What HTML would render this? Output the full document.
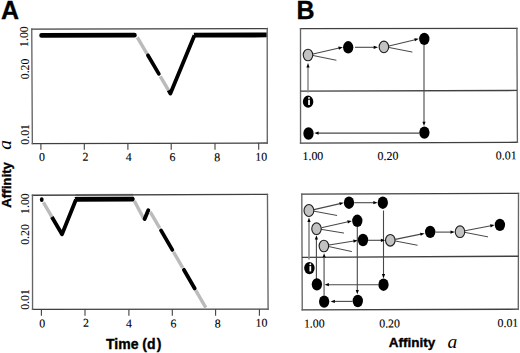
<!DOCTYPE html>
<html><head><meta charset="utf-8"><title>Figure</title>
<style>
html,body{margin:0;padding:0;background:#fff;}
body{width:520px;height:353px;overflow:hidden;font-family:"Liberation Sans", sans-serif;}
svg{display:block;}
</style></head>
<body>
<svg width="520" height="353" viewBox="0 0 520 353">
<rect width="520" height="353" fill="#fff"/>
<text x="0" y="0" font-family='"Liberation Sans", sans-serif' font-size="25" text-anchor="start" font-weight="bold" font-style="normal" fill="#000" stroke="#000" stroke-width="0.3" transform="translate(1.00 19.20)">A</text>
<text x="0" y="0" font-family='"Liberation Sans", sans-serif' font-size="25" text-anchor="start" font-weight="bold" font-style="normal" fill="#000" stroke="#000" stroke-width="0.3" transform="translate(296.50 19.00)">B</text>
<line x1="75.50" y1="195.20" x2="133.20" y2="195.00" stroke="#b0b0b0" stroke-width="2.4" stroke-linecap="butt"/>
<path d="M31.75,29.15L267.20,28.55M32.35,143.55L267.30,143.05" stroke="#404040" stroke-width="1.35" fill="none" stroke-linecap="square"/>
<path d="M31.75,29.15L32.35,143.55M267.20,28.55L267.30,143.05" stroke="#646464" stroke-width="1.35" fill="none" stroke-linecap="square"/>
<line x1="40.90" y1="143.53" x2="40.90" y2="149.80" stroke="#404040" stroke-width="1.1" stroke-linecap="butt"/>
<line x1="84.30" y1="143.44" x2="84.30" y2="149.80" stroke="#404040" stroke-width="1.1" stroke-linecap="butt"/>
<line x1="127.90" y1="143.35" x2="127.90" y2="149.80" stroke="#404040" stroke-width="1.1" stroke-linecap="butt"/>
<line x1="171.20" y1="143.25" x2="171.20" y2="149.80" stroke="#404040" stroke-width="1.1" stroke-linecap="butt"/>
<line x1="215.00" y1="143.16" x2="215.00" y2="149.80" stroke="#404040" stroke-width="1.1" stroke-linecap="butt"/>
<line x1="258.70" y1="143.07" x2="258.70" y2="149.80" stroke="#404040" stroke-width="1.1" stroke-linecap="butt"/>
<text x="0" y="0" font-family='"Liberation Serif", serif' font-size="11.9" text-anchor="middle" font-weight="normal" font-style="normal" fill="#000" stroke="#000" stroke-width="0.1" transform="translate(42.05 161.10) rotate(-0.12)">0</text>
<text x="0" y="0" font-family='"Liberation Serif", serif' font-size="11.9" text-anchor="middle" font-weight="normal" font-style="normal" fill="#000" stroke="#000" stroke-width="0.1" transform="translate(85.35 160.80) rotate(-0.12)">2</text>
<text x="0" y="0" font-family='"Liberation Serif", serif' font-size="11.9" text-anchor="middle" font-weight="normal" font-style="normal" fill="#000" stroke="#000" stroke-width="0.1" transform="translate(128.65 161.00) rotate(-0.12)">4</text>
<text x="0" y="0" font-family='"Liberation Serif", serif' font-size="11.9" text-anchor="middle" font-weight="normal" font-style="normal" fill="#000" stroke="#000" stroke-width="0.1" transform="translate(172.50 161.10) rotate(-0.12)">6</text>
<text x="0" y="0" font-family='"Liberation Serif", serif' font-size="11.9" text-anchor="middle" font-weight="normal" font-style="normal" fill="#000" stroke="#000" stroke-width="0.1" transform="translate(217.25 161.30) rotate(-0.12)">8</text>
<text x="0" y="0" font-family='"Liberation Serif", serif' font-size="11.9" text-anchor="middle" font-weight="normal" font-style="normal" fill="#000" stroke="#000" stroke-width="0.1" transform="translate(261.30 160.70) rotate(-0.12)">10</text>
<text x="0" y="0" font-family='"Liberation Serif", serif' font-size="12.1" text-anchor="middle" font-weight="normal" font-style="normal" fill="#000" stroke="#000" stroke-width="0.08" transform="translate(28.00 36.65) rotate(-90) scale(0.975 1.0)">1.00</text>
<text x="0" y="0" font-family='"Liberation Serif", serif' font-size="12.1" text-anchor="middle" font-weight="normal" font-style="normal" fill="#000" stroke="#000" stroke-width="0.08" transform="translate(28.70 68.95) rotate(-90) scale(0.975 1.0)">0.20</text>
<text x="0" y="0" font-family='"Liberation Serif", serif' font-size="12.1" text-anchor="middle" font-weight="normal" font-style="normal" fill="#000" stroke="#000" stroke-width="0.08" transform="translate(29.30 134.40) rotate(-90) scale(0.975 1.0)">0.01</text>
<path d="M32.45,195.25L267.45,194.35M32.55,309.35L268.10,309.15" stroke="#404040" stroke-width="1.35" fill="none" stroke-linecap="square"/>
<path d="M32.45,195.25L32.55,309.35M267.45,194.35L268.10,309.15" stroke="#646464" stroke-width="1.35" fill="none" stroke-linecap="square"/>
<line x1="41.40" y1="309.34" x2="41.40" y2="315.80" stroke="#404040" stroke-width="1.1" stroke-linecap="butt"/>
<line x1="85.00" y1="309.31" x2="85.00" y2="315.80" stroke="#404040" stroke-width="1.1" stroke-linecap="butt"/>
<line x1="128.90" y1="309.27" x2="128.90" y2="315.80" stroke="#404040" stroke-width="1.1" stroke-linecap="butt"/>
<line x1="172.30" y1="309.23" x2="172.30" y2="315.80" stroke="#404040" stroke-width="1.1" stroke-linecap="butt"/>
<line x1="215.60" y1="309.19" x2="215.60" y2="315.80" stroke="#404040" stroke-width="1.1" stroke-linecap="butt"/>
<line x1="259.40" y1="309.16" x2="259.40" y2="315.80" stroke="#404040" stroke-width="1.1" stroke-linecap="butt"/>
<text x="0" y="0" font-family='"Liberation Serif", serif' font-size="11.9" text-anchor="middle" font-weight="normal" font-style="normal" fill="#000" stroke="#000" stroke-width="0.1" transform="translate(42.30 327.60) rotate(-0.12)">0</text>
<text x="0" y="0" font-family='"Liberation Serif", serif' font-size="11.9" text-anchor="middle" font-weight="normal" font-style="normal" fill="#000" stroke="#000" stroke-width="0.1" transform="translate(86.00 326.70) rotate(-0.12)">2</text>
<text x="0" y="0" font-family='"Liberation Serif", serif' font-size="11.9" text-anchor="middle" font-weight="normal" font-style="normal" fill="#000" stroke="#000" stroke-width="0.1" transform="translate(129.00 327.40) rotate(-0.12)">4</text>
<text x="0" y="0" font-family='"Liberation Serif", serif' font-size="11.9" text-anchor="middle" font-weight="normal" font-style="normal" fill="#000" stroke="#000" stroke-width="0.1" transform="translate(173.40 327.60) rotate(-0.12)">6</text>
<text x="0" y="0" font-family='"Liberation Serif", serif' font-size="11.9" text-anchor="middle" font-weight="normal" font-style="normal" fill="#000" stroke="#000" stroke-width="0.1" transform="translate(217.70 327.60) rotate(-0.12)">8</text>
<text x="0" y="0" font-family='"Liberation Serif", serif' font-size="11.9" text-anchor="middle" font-weight="normal" font-style="normal" fill="#000" stroke="#000" stroke-width="0.1" transform="translate(261.45 326.80) rotate(-0.12)">10</text>
<text x="0" y="0" font-family='"Liberation Serif", serif' font-size="12.1" text-anchor="middle" font-weight="normal" font-style="normal" fill="#000" stroke="#000" stroke-width="0.08" transform="translate(28.70 203.65) rotate(-90) scale(0.975 1.0)">1.00</text>
<text x="0" y="0" font-family='"Liberation Serif", serif' font-size="12.1" text-anchor="middle" font-weight="normal" font-style="normal" fill="#000" stroke="#000" stroke-width="0.08" transform="translate(29.10 234.50) rotate(-90) scale(0.975 1.0)">0.20</text>
<text x="0" y="0" font-family='"Liberation Serif", serif' font-size="12.1" text-anchor="middle" font-weight="normal" font-style="normal" fill="#000" stroke="#000" stroke-width="0.08" transform="translate(29.10 299.50) rotate(-90) scale(0.975 1.0)">0.01</text>
<polyline points="41.60,35.40 134.40,35.20" fill="none" stroke="#000" stroke-width="4.8" stroke-linecap="round" stroke-linejoin="round"/>
<line x1="137.33" y1="37.40" x2="146.88" y2="53.60" stroke="#bbbbbb" stroke-width="3.4" stroke-linecap="butt"/>
<line x1="147.88" y1="55.30" x2="158.85" y2="73.90" stroke="#000" stroke-width="3.7" stroke-linecap="round"/>
<line x1="160.27" y1="76.30" x2="168.70" y2="90.60" stroke="#bbbbbb" stroke-width="3.4" stroke-linecap="butt"/>
<polyline points="168.58,90.40 170.40,93.50 194.50,35.20" fill="none" stroke="#000" stroke-width="3.8" stroke-linecap="butt" stroke-linejoin="round"/>
<path d="M193.7,32.75 L266.6,32.55 L266.6,37.35 L194.5,37.55 Z" fill="#000"/>
<ellipse cx="41.75" cy="199.65" rx="1.9" ry="2.45" fill="#000"/>
<line x1="43.41" y1="202.30" x2="52.01" y2="217.20" stroke="#bbbbbb" stroke-width="3.4" stroke-linecap="butt"/>
<polyline points="51.89,217.00 62.00,234.30 76.00,199.50" fill="none" stroke="#000" stroke-width="3.8" stroke-linecap="butt" stroke-linejoin="round"/>
<path d="M74.6,196.95 L133.6,196.85 Q135.9,199.15 133.6,201.45 L76.0,201.75 Z" fill="#000"/>
<line x1="134.40" y1="201.00" x2="143.50" y2="218.20" stroke="#bbbbbb" stroke-width="3.4" stroke-linecap="butt"/>
<line x1="144.60" y1="218.90" x2="148.30" y2="210.30" stroke="#000" stroke-width="3.9" stroke-linecap="round"/>
<line x1="150.22" y1="211.80" x2="159.74" y2="228.20" stroke="#bbbbbb" stroke-width="3.4" stroke-linecap="butt"/>
<line x1="161.01" y1="230.40" x2="172.32" y2="249.90" stroke="#000" stroke-width="3.8" stroke-linecap="round"/>
<line x1="173.54" y1="252.00" x2="182.76" y2="267.90" stroke="#bbbbbb" stroke-width="3.4" stroke-linecap="butt"/>
<line x1="183.87" y1="269.80" x2="194.71" y2="288.50" stroke="#000" stroke-width="3.8" stroke-linecap="round"/>
<line x1="195.76" y1="290.30" x2="205.79" y2="307.60" stroke="#bbbbbb" stroke-width="3.4" stroke-linecap="butt"/>
<text x="0" y="0" font-family='"Liberation Sans", sans-serif' font-size="14" text-anchor="start" font-weight="bold" font-style="normal" fill="#000" stroke="#000" stroke-width="0.35" transform="translate(106.00 348.60)">Time (d<tspan dx="1.3">)</tspan></text>
<text x="0" y="0" font-family='"Liberation Sans", sans-serif' font-size="13.3" text-anchor="middle" font-weight="bold" font-style="normal" fill="#000" stroke="#000" stroke-width="0.35" transform="translate(11.00 184.90) rotate(-90)">Affinity</text>
<text x="0" y="0" font-family='"Liberation Serif", serif' font-size="19.5" text-anchor="middle" font-weight="normal" font-style="italic" fill="#000" transform="translate(11.00 144.90) rotate(-90)">a</text>
<text x="0" y="0" font-family='"Liberation Sans", sans-serif' font-size="13.5" text-anchor="middle" font-weight="bold" font-style="normal" fill="#000" stroke="#000" stroke-width="0.35" transform="translate(411.90 347.00)">Affinity</text>
<text x="0" y="0" font-family='"Liberation Serif", serif' font-size="19.5" text-anchor="middle" font-weight="normal" font-style="italic" fill="#000" transform="translate(452.30 347.60)">a</text>
<path d="M300.50,28.66L516.90,28.35M300.55,143.15L517.40,142.30" stroke="#404040" stroke-width="1.35" fill="none" stroke-linecap="square"/>
<path d="M300.50,28.66L300.55,143.15M516.90,28.35L517.40,142.30" stroke="#646464" stroke-width="1.35" fill="none" stroke-linecap="square"/>
<line x1="300.50" y1="91.05" x2="517.10" y2="90.45" stroke="#404040" stroke-width="1.35" stroke-linecap="butt"/>
<text x="0" y="0" font-family='"Liberation Serif", serif' font-size="11.9" text-anchor="start" font-weight="normal" font-style="normal" fill="#000" stroke="#000" stroke-width="0.1" transform="translate(302.50 160.10) rotate(-0.12)">1.00</text>
<text x="0" y="0" font-family='"Liberation Serif", serif' font-size="11.9" text-anchor="start" font-weight="normal" font-style="normal" fill="#000" stroke="#000" stroke-width="0.1" transform="translate(377.60 159.90) rotate(-0.12)">0.20</text>
<text x="0" y="0" font-family='"Liberation Serif", serif' font-size="11.9" text-anchor="start" font-weight="normal" font-style="normal" fill="#000" stroke="#000" stroke-width="0.1" transform="translate(495.80 159.40) rotate(-0.12)">0.01</text>
<path d="M301.80,194.10L518.50,193.40M302.25,309.90L518.30,309.20" stroke="#404040" stroke-width="1.35" fill="none" stroke-linecap="square"/>
<path d="M301.80,194.10L302.25,309.90M518.50,193.40L518.30,309.20" stroke="#646464" stroke-width="1.35" fill="none" stroke-linecap="square"/>
<line x1="301.90" y1="257.30" x2="518.40" y2="256.20" stroke="#404040" stroke-width="1.35" stroke-linecap="butt"/>
<text x="0" y="0" font-family='"Liberation Serif", serif' font-size="11.9" text-anchor="start" font-weight="normal" font-style="normal" fill="#000" stroke="#000" stroke-width="0.1" transform="translate(303.90 327.50) rotate(-0.12)">1.00</text>
<text x="0" y="0" font-family='"Liberation Serif", serif' font-size="11.9" text-anchor="start" font-weight="normal" font-style="normal" fill="#000" stroke="#000" stroke-width="0.1" transform="translate(379.20 327.50) rotate(-0.12)">0.20</text>
<text x="0" y="0" font-family='"Liberation Serif", serif' font-size="11.9" text-anchor="start" font-weight="normal" font-style="normal" fill="#000" stroke="#000" stroke-width="0.1" transform="translate(497.50 326.90) rotate(-0.12)">0.01</text>
<line x1="308.00" y1="92.60" x2="308.00" y2="66.90" stroke="#8a8a8a" stroke-width="1.5" stroke-linecap="butt"/>
<polygon points="308.00,63.10 309.60,67.40 306.40,67.40" fill="#000"/>
<line x1="313.00" y1="54.00" x2="339.10" y2="48.05" stroke="#484848" stroke-width="1.1" stroke-linecap="butt"/>
<polygon points="342.80,47.20 338.96,49.72 338.25,46.60" fill="#000"/>
<line x1="313.00" y1="55.50" x2="336.00" y2="60.20" stroke="#484848" stroke-width="1.0" stroke-linecap="round"/>
<line x1="355.00" y1="47.30" x2="374.20" y2="47.30" stroke="#484848" stroke-width="1.1" stroke-linecap="butt"/>
<polygon points="378.00,47.30 373.70,48.90 373.70,45.70" fill="#000"/>
<line x1="389.00" y1="46.00" x2="415.11" y2="39.69" stroke="#484848" stroke-width="1.1" stroke-linecap="butt"/>
<polygon points="418.80,38.80 415.00,41.37 414.24,38.25" fill="#000"/>
<line x1="389.00" y1="47.50" x2="412.00" y2="52.00" stroke="#484848" stroke-width="1.0" stroke-linecap="round"/>
<line x1="424.00" y1="45.00" x2="424.00" y2="122.20" stroke="#484848" stroke-width="1.1" stroke-linecap="butt"/>
<polygon points="424.00,126.00 422.40,121.70 425.60,121.70" fill="#000"/>
<line x1="419.00" y1="133.10" x2="318.10" y2="133.10" stroke="#484848" stroke-width="1.1" stroke-linecap="butt"/>
<polygon points="314.30,133.10 318.60,131.50 318.60,134.70" fill="#000"/>
<ellipse cx="308.00" cy="55.00" rx="4.75" ry="5.80" fill="#c2c2c2" stroke="#1e1e1e" stroke-width="1.1"/>
<ellipse cx="348.20" cy="47.30" rx="5.15" ry="6.20" fill="#000"/>
<ellipse cx="383.90" cy="46.90" rx="4.75" ry="5.80" fill="#c2c2c2" stroke="#1e1e1e" stroke-width="1.1"/>
<ellipse cx="424.30" cy="38.90" rx="5.15" ry="6.20" fill="#000"/>
<ellipse cx="308.10" cy="101.70" rx="5.25" ry="6.10" fill="#000"/>
<rect x="308.15" y="99.70" width="1.75" height="5.3" fill="#fff"/>
<circle cx="309.00" cy="97.90" r="0.95" fill="#fff"/>
<ellipse cx="308.50" cy="133.50" rx="5.15" ry="6.20" fill="#000"/>
<ellipse cx="424.40" cy="132.60" rx="5.15" ry="6.20" fill="#000"/>
<line x1="309.00" y1="259.50" x2="309.00" y2="221.40" stroke="#8a8a8a" stroke-width="1.6" stroke-linecap="butt"/>
<polygon points="309.00,217.60 310.60,221.90 307.40,221.90" fill="#000"/>
<line x1="316.40" y1="279.00" x2="316.40" y2="239.00" stroke="#484848" stroke-width="1.1" stroke-linecap="butt"/>
<polygon points="316.40,235.20 318.00,239.50 314.80,239.50" fill="#000"/>
<line x1="324.10" y1="295.50" x2="324.10" y2="257.10" stroke="#8a8a8a" stroke-width="1.7" stroke-linecap="butt"/>
<polygon points="324.10,253.30 325.70,257.60 322.50,257.60" fill="#000"/>
<line x1="357.30" y1="227.00" x2="357.30" y2="290.50" stroke="#484848" stroke-width="1.1" stroke-linecap="butt"/>
<polygon points="357.30,294.30 355.70,290.00 358.90,290.00" fill="#000"/>
<line x1="383.50" y1="210.50" x2="383.50" y2="274.60" stroke="#484848" stroke-width="1.1" stroke-linecap="butt"/>
<polygon points="383.50,278.40 381.90,274.10 385.10,274.10" fill="#000"/>
<line x1="378.50" y1="284.70" x2="328.40" y2="284.70" stroke="#484848" stroke-width="1.1" stroke-linecap="butt"/>
<polygon points="324.60,284.70 328.90,283.10 328.90,286.30" fill="#000"/>
<line x1="352.50" y1="301.40" x2="334.40" y2="301.40" stroke="#484848" stroke-width="1.1" stroke-linecap="butt"/>
<polygon points="330.60,301.40 334.90,299.80 334.90,303.00" fill="#000"/>
<line x1="314.00" y1="209.60" x2="340.10" y2="203.65" stroke="#484848" stroke-width="1.1" stroke-linecap="butt"/>
<polygon points="343.80,202.80 339.96,205.32 339.25,202.20" fill="#000"/>
<line x1="314.00" y1="211.20" x2="336.70" y2="215.40" stroke="#484848" stroke-width="1.0" stroke-linecap="round"/>
<line x1="354.20" y1="202.70" x2="373.80" y2="202.70" stroke="#484848" stroke-width="1.1" stroke-linecap="butt"/>
<polygon points="377.60,202.70 373.30,204.30 373.30,201.10" fill="#000"/>
<line x1="321.40" y1="227.80" x2="348.09" y2="221.74" stroke="#484848" stroke-width="1.1" stroke-linecap="butt"/>
<polygon points="351.80,220.90 347.96,223.41 347.25,220.29" fill="#000"/>
<line x1="321.40" y1="229.40" x2="343.60" y2="233.00" stroke="#484848" stroke-width="1.0" stroke-linecap="round"/>
<line x1="329.00" y1="245.00" x2="353.95" y2="241.00" stroke="#484848" stroke-width="1.1" stroke-linecap="butt"/>
<polygon points="357.70,240.40 353.71,242.66 353.20,239.50" fill="#000"/>
<line x1="329.00" y1="246.60" x2="351.50" y2="251.50" stroke="#484848" stroke-width="1.0" stroke-linecap="round"/>
<line x1="368.00" y1="240.30" x2="381.40" y2="240.30" stroke="#484848" stroke-width="1.1" stroke-linecap="butt"/>
<polygon points="385.20,240.30 380.90,241.90 380.90,238.70" fill="#000"/>
<line x1="395.30" y1="239.40" x2="420.88" y2="234.16" stroke="#484848" stroke-width="1.1" stroke-linecap="butt"/>
<polygon points="424.60,233.40 420.71,235.83 420.07,232.70" fill="#000"/>
<line x1="395.30" y1="241.00" x2="417.20" y2="245.20" stroke="#484848" stroke-width="1.0" stroke-linecap="round"/>
<line x1="435.40" y1="232.10" x2="451.00" y2="232.10" stroke="#484848" stroke-width="1.1" stroke-linecap="butt"/>
<polygon points="454.80,232.10 450.50,233.70 450.50,230.50" fill="#000"/>
<line x1="465.00" y1="230.80" x2="490.87" y2="225.73" stroke="#484848" stroke-width="1.1" stroke-linecap="butt"/>
<polygon points="494.60,225.00 490.69,227.40 490.07,224.26" fill="#000"/>
<line x1="465.00" y1="232.40" x2="487.60" y2="236.80" stroke="#484848" stroke-width="1.0" stroke-linecap="round"/>
<ellipse cx="308.90" cy="210.50" rx="4.90" ry="5.95" fill="#c2c2c2" stroke="#1e1e1e" stroke-width="1.1"/>
<ellipse cx="316.50" cy="228.70" rx="4.75" ry="5.80" fill="#c2c2c2" stroke="#1e1e1e" stroke-width="1.1"/>
<ellipse cx="323.90" cy="246.00" rx="4.75" ry="5.80" fill="#c2c2c2" stroke="#1e1e1e" stroke-width="1.1"/>
<ellipse cx="349.00" cy="202.70" rx="5.15" ry="6.20" fill="#000"/>
<ellipse cx="382.80" cy="202.70" rx="5.15" ry="6.20" fill="#000"/>
<ellipse cx="357.30" cy="220.80" rx="5.15" ry="6.20" fill="#000"/>
<ellipse cx="363.00" cy="240.00" rx="5.15" ry="6.20" fill="#000"/>
<ellipse cx="390.30" cy="240.30" rx="4.75" ry="5.80" fill="#c2c2c2" stroke="#1e1e1e" stroke-width="1.1"/>
<ellipse cx="430.20" cy="231.90" rx="5.15" ry="6.20" fill="#000"/>
<ellipse cx="460.00" cy="231.70" rx="4.75" ry="5.80" fill="#c2c2c2" stroke="#1e1e1e" stroke-width="1.1"/>
<ellipse cx="499.90" cy="224.90" rx="5.15" ry="6.20" fill="#000"/>
<ellipse cx="309.40" cy="268.10" rx="5.25" ry="6.10" fill="#000"/>
<rect x="309.45" y="266.10" width="1.75" height="5.3" fill="#fff"/>
<circle cx="310.30" cy="264.30" r="0.95" fill="#fff"/>
<ellipse cx="316.90" cy="284.35" rx="5.15" ry="6.20" fill="#000"/>
<ellipse cx="383.50" cy="284.70" rx="5.15" ry="6.20" fill="#000"/>
<ellipse cx="324.15" cy="301.60" rx="5.15" ry="6.20" fill="#000"/>
<ellipse cx="357.80" cy="301.00" rx="5.15" ry="6.20" fill="#000"/>
</svg>
</body></html>
